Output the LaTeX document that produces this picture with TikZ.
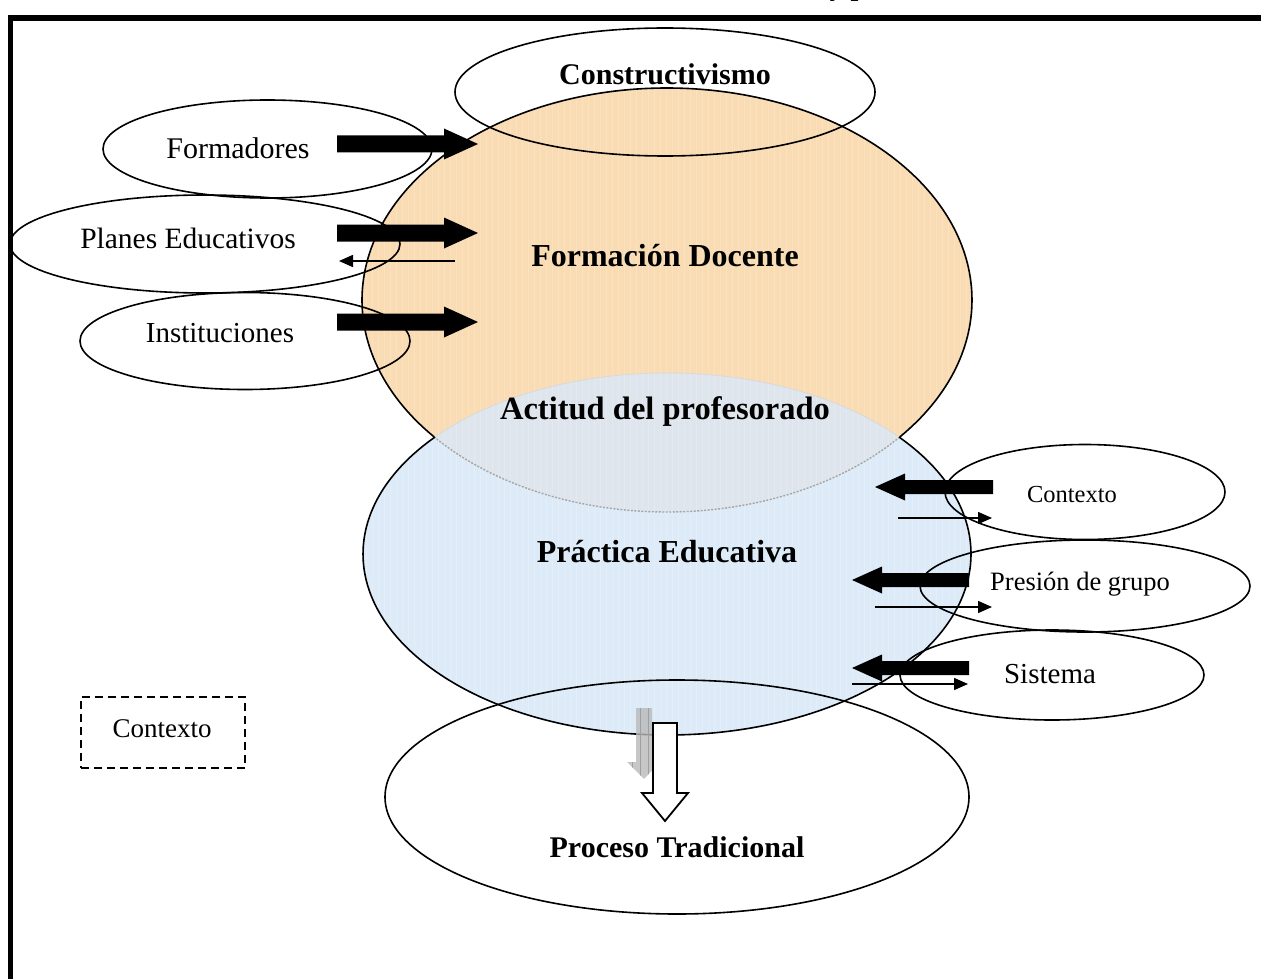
\documentclass[tikz,border=0pt]{standalone}
\usepackage{fontspec}
\setmainfont{Liberation Serif}
\usetikzlibrary{shapes.geometric,arrows.meta}
\definecolor{docorange}{RGB}{249,220,180}
\definecolor{pracblue}{RGB}{221,235,248}
\definecolor{overlapgray}{RGB}{223,229,236}

% block arrow: #1 centre y, #2 tail x, #3 head base x, #4 tip x, #5 shaft half width, #6 head half width
\newcommand{\blockarrowshape}[6]{%
  \fill (#2,{#1-#5}) -- (#3,{#1-#5}) -- (#3,{#1-#6}) -- (#4,#1) -- (#3,{#1+#6}) -- (#3,{#1+#5}) -- (#2,{#1+#5}) -- cycle;}

\begin{document}
\begin{tikzpicture}[x=1pt,y=-1pt,
  outline/.style={line width=1.6pt},
  bubble/.style={ellipse, draw, line width=1.6pt, inner sep=0pt},
  bigtitle/.style={font=\fontsize{32}{38}\selectfont\bfseries, anchor=base},
  label/.style={font=\fontsize{29}{34}\selectfont, anchor=base},
  thinarrow/.style={line width=1.5pt, -{Triangle[length=14pt,width=12pt]}},
]
\useasboundingbox (0,0) rectangle (1261,979);
\clip (0,0) rectangle (1261,979);

% heading above the frame, only its lowest strokes reach the page
\node[font=\fontsize{28}{34}\selectfont\bfseries, anchor=base] (heading) at (848,-4.5) {y p};

% centres of the two main ellipses
\coordinate (docC) at (667,300);
\coordinate (pracC) at (667,554);

% fills
\fill[docorange] (docC) ellipse [x radius=305, y radius=212];
\fill[pracblue] (pracC) ellipse [x radius=304, y radius=181];
\begin{scope}
  \clip (docC) ellipse [x radius=305, y radius=212];
  \fill[overlapgray] (pracC) ellipse [x radius=304, y radius=181];
\end{scope}

% fine woven texture of the fills
\begin{scope}
  \clip (docC) ellipse [x radius=305, y radius=212] (pracC) ellipse [x radius=304, y radius=181];
  \draw[white, opacity=0.18, line width=0.6pt, step=6] (350,80) grid (980,740);
\end{scope}

% outlines of the main ellipses
\draw[outline] (docC) ++(139.75:305 and 212) arc[start angle=139.75, end angle=400.25, x radius=305, y radius=212];
\draw[line width=1.4pt, gray!70, dash pattern=on 2pt off 1.5pt] (docC) ++(40.25:305 and 212) arc[start angle=40.25, end angle=139.75, x radius=305, y radius=212];
\draw[outline] (pracC) ++(-40.27:304 and 181) arc[start angle=-40.27, end angle=220.27, x radius=304, y radius=181];
\draw[line width=0.8pt, gray!30] (pracC) ++(220.27:304 and 181) arc[start angle=220.27, end angle=319.73, x radius=304, y radius=181];

% surrounding ellipses
\node[bubble, minimum width=420pt, minimum height=128pt] (constrE) at (665,92) {};
\node[bubble, minimum width=329pt, minimum height=98pt] (formE) at (267.5,149) {};
\node[bubble, minimum width=390pt, minimum height=98pt] (planE) at (205,244) {};
\node[bubble, minimum width=330pt, minimum height=97pt] (instE) at (245,341) {};
\node[bubble, minimum width=280pt, minimum height=95pt] (ctxE) at (1085,492) {};
\node[bubble, minimum width=330pt, minimum height=92pt] (presE) at (1085,586) {};
\node[bubble, minimum width=304pt, minimum height=90pt] (sistE) at (1052,675) {};
\node[bubble, minimum width=584pt, minimum height=234pt] (procE) at (677,797) {};

% block arrows
\blockarrowshape{144}{337}{444}{478}{8.5}{15.5}
\blockarrowshape{233}{337}{444}{478}{8.5}{15.5}
\blockarrowshape{322}{337}{444}{478}{8.5}{15.5}
\blockarrowshape{487}{993}{905}{875}{7}{13.5}
\blockarrowshape{580}{969}{882}{852}{7}{13.5}
\blockarrowshape{668}{969}{882}{852}{7}{13.5}

% thin arrows
\coordinate (planOutS) at (455,261);
\coordinate (planOutE) at (339,261);
\coordinate (ctxOutS) at (898,518);
\coordinate (ctxOutE) at (992,518);
\coordinate (presOutS) at (875,607);
\coordinate (presOutE) at (992,607);
\coordinate (sistOutS) at (852,684);
\coordinate (sistOutE) at (968,684);
\draw[thinarrow] (planOutS) -- (planOutE);
\draw[thinarrow] (ctxOutS) -- (ctxOutE);
\draw[thinarrow] (presOutS) -- (presOutE);
\draw[thinarrow] (sistOutS) -- (sistOutE);

% downward arrows towards the traditional process
\begin{scope}
  \path[fill=gray!55, fill opacity=0.8] (636,708) -- (652,708) -- (652,762) -- (660,762) -- (644,779) -- (627,762) -- (636,762) -- cycle;
  \clip (636,708) -- (652,708) -- (652,762) -- (660,762) -- (644,779) -- (627,762) -- (636,762) -- cycle;
  \draw[gray!75, line width=0.6pt, step=8] (620,700) grid (670,785);
\end{scope}
\draw[fill=white, line width=1.8pt] (653,723) -- (677,723) -- (677,793) -- (688,793) -- (665,821) -- (642,793) -- (653,793) -- cycle;

% dashed context box
\node[draw, line width=1.6pt, dash pattern=on 8pt off 5pt, minimum width=164pt, minimum height=71pt, inner sep=0pt] (ctxBox) at (163,732.5) {};

% texts
\node[bigtitle, font=\fontsize{30}{36}\selectfont\bfseries] (constrT) at (665,85) {Constructivismo};
\node[bigtitle] (docT) at (665,266) {Formación Docente};
\node[bigtitle, font=\fontsize{32.5}{38}\selectfont\bfseries] (actT) at (665,419) {Actitud del profesorado};
\node[bigtitle] (pracT) at (667,562) {Práctica Educativa};
\node[bigtitle, font=\fontsize{30}{36}\selectfont\bfseries] (procT) at (677,857) {Proceso Tradicional};
\node[label, font=\fontsize{30}{35}\selectfont] (formT) at (238,158) {Formadores};
\node[label, font=\fontsize{29.5}{35}\selectfont] (planT) at (188,248) {Planes Educativos};
\node[label] (instT) at (220,342) {Instituciones};
\node[label, font=\fontsize{24.5}{29}\selectfont] (ctxT) at (1072,502) {Contexto};
\node[label, font=\fontsize{26.5}{31}\selectfont] (presT) at (1080,590) {Presión de grupo};
\node[label] (sistT) at (1050,683) {Sistema};
\node[label, font=\fontsize{27}{32}\selectfont] (ctxBoxT) at (162,737) {Contexto};

% page frame
\draw[line width=5.5pt, line join=miter] (1265,18) -- (10.5,18) -- (10.5,985);
\end{tikzpicture}
\end{document}
